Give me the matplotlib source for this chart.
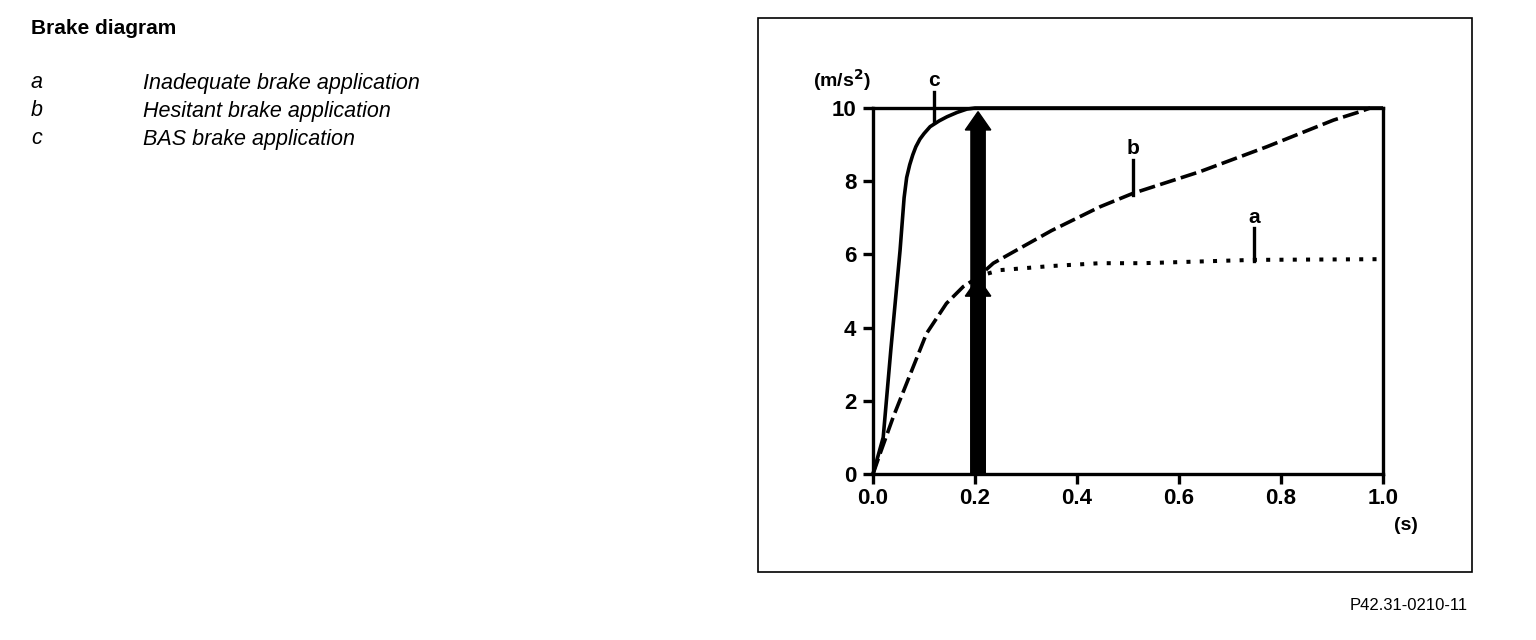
import numpy as np
import matplotlib.pyplot as plt
from matplotlib.patches import Rectangle, FancyArrow

plt.rcParams['font.family'] = ['Liberation Sans', 'DejaVu Sans']

# curve c: BAS brake application
t_c = [0, 0.02, 0.035, 0.053, 0.061, 0.066, 0.072, 0.078, 0.084, 0.092, 0.1, 0.112, 0.13, 0.145, 0.165, 0.184, 0.2, 1.0]
v_c = [0, 1.0, 3.4, 6.1, 7.55, 8.1, 8.45, 8.72, 8.94, 9.15, 9.3, 9.49, 9.65, 9.76, 9.88, 9.97, 10, 10]

# curve b: hesitant brake application
t_b = [0, 0.014, 0.04, 0.066, 0.105, 0.144, 0.177, 0.203, 0.236, 0.282, 0.35,
       0.445, 0.51, 0.641, 0.772, 0.903, 0.955, 0.975]
v_b = [0, 0.56, 1.57, 2.48, 3.84, 4.66, 5.12, 5.35, 5.76, 6.12, 6.65,
       7.30, 7.67, 8.26, 8.94, 9.67, 9.90, 10.0]

# curve a: inadequate brake application
t_a = [0.2, 0.249, 0.347, 0.445, 0.53, 0.745, 1.0]
v_a = [5.38, 5.57, 5.68, 5.76, 5.76, 5.85, 5.87]

x_ticks = [0.0, 0.2, 0.4, 0.6, 0.8, 1.0]
x_labels = ['0.0', '0.2', '0.4', '0.6', '0.8', '1.0']
y_ticks = [0, 2, 4, 6, 8, 10]

# BAS assist arrows at t = 0.2 s
arrow_t = 0.206
arrow_tops = [9.9, 5.36]

# curve labels: name, t, line bottom, line top
lbl_names = ['c', 'b', 'a']
lbl_t = [0.12, 0.51, 0.748]
lbl_lo = [9.63, 7.62, 5.83]
lbl_hi = [10.45, 8.58, 6.71]

legend_keys = ['a', 'b', 'c']
legend_text = ['Inadequate brake application', 'Hesitant brake application', 'BAS brake application']

fig = plt.figure(figsize=(15.36, 6.4), dpi=100)

# text block on the left
fig.text(31 / 1536, 1 - 28 / 640, 'Brake diagram', fontsize=15, fontweight='bold', va='center')
for i, (k, s) in enumerate(zip(legend_keys, legend_text)):
    y = 1 - (83 + 28 * i) / 640
    fig.text(31 / 1536, y, k, fontsize=15.5, style='italic', va='center')
    fig.text(143 / 1536, y, s, fontsize=15.5, style='italic', va='center')

fig.text(1468 / 1536, 1 - 605 / 640, 'P42.31-0210-11', fontsize=12, ha='right', va='center')

# frame around the diagram
fig.patches.append(Rectangle((758 / 1536, 1 - 572 / 640), 714 / 1536, 554 / 640,
                             transform=fig.transFigure, fill=False, lw=1.2, ec='black'))

ax = fig.add_axes([873 / 1536, 1 - 474 / 640, 510 / 1536, 366 / 640])
ax.set_xlim(0, 1)
ax.set_ylim(0, 10)

lw = 2.6
ax.plot(t_c, v_c, color='black', lw=lw, clip_on=False, solid_capstyle='butt')
ax.plot(t_b, v_b, color='black', lw=lw, dashes=(4.5, 1.5), clip_on=False)
ax.plot(t_a, v_a, color='black', lw=2.9, dashes=(1, 2.3), clip_on=False)

for top in arrow_tops:
    ax.add_patch(FancyArrow(arrow_t, 0, 0, top, width=0.028, head_width=0.05,
                            head_length=0.5, length_includes_head=True,
                            color='black', zorder=5, clip_on=False))

for name, t, lo, hi in zip(lbl_names, lbl_t, lbl_lo, lbl_hi):
    ax.plot([t, t], [lo, hi], color='black', lw=2.4, clip_on=False)
    ax.text(t, hi + 0.05, name, fontsize=15, fontweight='bold', ha='center', va='bottom')

for sp in ax.spines.values():
    sp.set_linewidth(2.4)

ax.set_xticks(x_ticks)
ax.set_xticklabels(x_labels)
ax.set_yticks(y_ticks)
ax.tick_params(axis='both', length=7, width=2.4, labelsize=16)
ax.tick_params(axis='x', pad=3)
ax.tick_params(axis='y', pad=5)
for lab in ax.get_xticklabels() + ax.get_yticklabels():
    lab.set_fontweight('bold')

ax.text(-0.06, 10.75, '(m/s$^\\mathbf{2}$)', fontsize=14, fontweight='bold', ha='center', va='center')
ax.text(1.045, -1.4, '(s)', fontsize=14, fontweight='bold', ha='center', va='center')

fig.savefig('out.png', dpi=100)
